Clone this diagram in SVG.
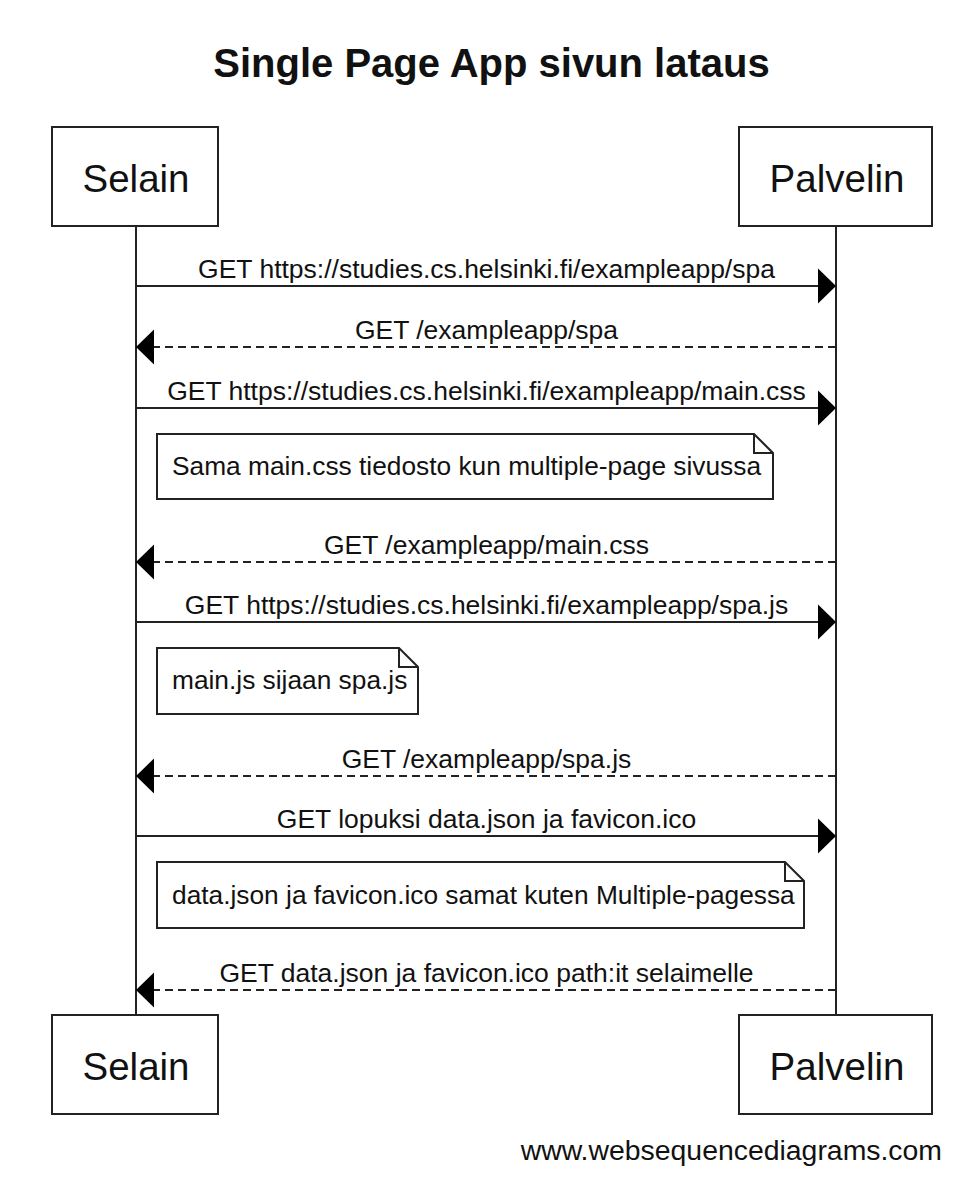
<svg xmlns="http://www.w3.org/2000/svg" width="972" height="1190" viewBox="0 0 972 1190">
<style>
text{font-family:"Liberation Sans",Arial,sans-serif;fill:#111}
.title{font-size:40px;font-weight:bold}
.actor rect{fill:#fff;stroke:#222;stroke-width:2}
.actor text{font-size:38.5px;text-anchor:middle}
.life{stroke:#222;stroke-width:2}
.msg{stroke:#222;stroke-width:2;fill:none}
.dash{stroke-dasharray:8 5}
.head{fill:#000}
.lbl{font-size:26.5px;text-anchor:middle}
.note path{fill:#fff;stroke:#222;stroke-width:2;stroke-linejoin:miter}
.note text{font-size:26.3px}
.wm{font-size:28.4px;text-anchor:end}
</style>
<rect width="972" height="1190" fill="#fff"/>
<text class="title" x="491.5" y="77" text-anchor="middle">Single Page App sivun lataus</text>
<g id="lifelines">
<line class="life" x1="136" y1="226" x2="136" y2="1015"/>
<line class="life" x1="836" y1="226" x2="836" y2="1015"/>
</g>
<g id="selain-top" class="actor"><rect x="52" y="127" width="166" height="99"/><text x="136" y="192">Selain</text></g>
<g id="palvelin-top" class="actor"><rect x="739" y="127" width="193" height="99"/><text x="837" y="192">Palvelin</text></g>
<g id="selain-bottom" class="actor"><rect x="52" y="1015" width="166" height="99"/><text x="136" y="1080">Selain</text></g>
<g id="palvelin-bottom" class="actor"><rect x="739" y="1015" width="193" height="99"/><text x="837" y="1080">Palvelin</text></g>
<g id="connectors">
<line class="msg" x1="136" y1="286" x2="820" y2="286"/><polygon class="head" points="836,286 818,268.5 818,303.5"/>
<text class="lbl" x="486.5" y="278">GET https://studies.cs.helsinki.fi/exampleapp/spa</text>
<line class="msg dash" x1="836" y1="347" x2="150" y2="347"/><polygon class="head" points="136,347 154,329.5 154,364.5"/>
<text class="lbl" x="486.5" y="339">GET /exampleapp/spa</text>
<line class="msg" x1="136" y1="408" x2="820" y2="408"/><polygon class="head" points="836,408 818,390.5 818,425.5"/>
<text class="lbl" x="486.5" y="400">GET https://studies.cs.helsinki.fi/exampleapp/main.css</text>
<line class="msg dash" x1="836" y1="562" x2="150" y2="562"/><polygon class="head" points="136,562 154,544.5 154,579.5"/>
<text class="lbl" x="486.5" y="554">GET /exampleapp/main.css</text>
<line class="msg" x1="136" y1="622" x2="820" y2="622"/><polygon class="head" points="836,622 818,604.5 818,639.5"/>
<text class="lbl" x="486.5" y="614">GET https://studies.cs.helsinki.fi/exampleapp/spa.js</text>
<line class="msg dash" x1="836" y1="776" x2="150" y2="776"/><polygon class="head" points="136,776 154,758.5 154,793.5"/>
<text class="lbl" x="486.5" y="768">GET /exampleapp/spa.js</text>
<line class="msg" x1="136" y1="836" x2="820" y2="836"/><polygon class="head" points="836,836 818,818.5 818,853.5"/>
<text class="lbl" x="486.5" y="828">GET lopuksi data.json ja favicon.ico</text>
<line class="msg dash" x1="836" y1="990" x2="150" y2="990"/><polygon class="head" points="136,990 154,972.5 154,1007.5"/>
<text class="lbl" x="486.5" y="982">GET data.json ja favicon.ico path:it selaimelle</text>
</g>
<g id="note1" class="note"><path d="M157,434 H754 L773,453 V499 H157 Z M754,434 V453 H773"/><text x="172" y="475">Sama main.css tiedosto kun multiple-page sivussa</text></g>
<g id="note2" class="note"><path d="M157,648 H399 L418,667 V714 H157 Z M399,648 V667 H418"/><text x="172" y="689">main.js sijaan spa.js</text></g>
<g id="note3" class="note"><path d="M157,862 H785 L804,881 V928 H157 Z M785,862 V881 H804"/><text x="172" y="904">data.json ja favicon.ico samat kuten Multiple-pagessa</text></g>
<text class="wm" x="942" y="1160">www.websequencediagrams.com</text>
</svg>
